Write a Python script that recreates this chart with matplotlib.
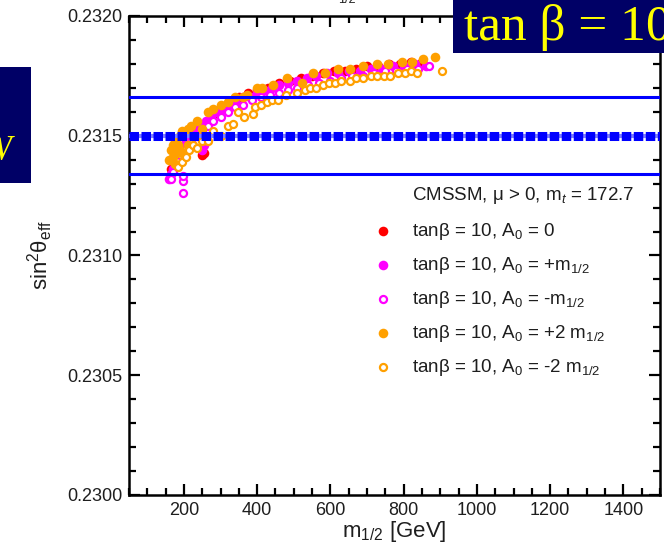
import matplotlib
matplotlib.use("Agg")
import matplotlib.pyplot as plt
from matplotlib.ticker import MultipleLocator, FormatStrFormatter
from matplotlib.patches import Rectangle

plt.rcParams['font.family'] = ['Liberation Sans', 'DejaVu Sans']
plt.rcParams['mathtext.fontset'] = 'custom'
plt.rcParams['mathtext.rm'] = 'Liberation Sans'
plt.rcParams['mathtext.it'] = 'Liberation Sans:italic'
plt.rcParams['mathtext.bf'] = 'Liberation Sans:bold'

# ---- data ----
m_red = [165,175,185,195,205,215,225,240,250,255,260,280,300,325,350,375,400,430,460,490,520,550,580,610,640,670,700,730,760,790,820,850]
s_red = [0.23136,0.23139,0.23142,0.23145,0.23147,0.23149,0.23151,0.23153,0.23142,0.23143,0.23155,0.23159,0.23162,0.23164,0.23166,0.23168,0.23169,0.23170,0.23172,0.23173,0.23174,0.23175,0.23176,0.23177,0.23177,0.23178,0.23179,0.23179,0.23180,0.23180,0.23181,0.23181]

m_mag = [160,165,170,175,180,185,190,200,210,220,230,240,250,255,260,275,290,305,320,340,360,380,400,420,440,460,485,510,535,560,590,620,650,680,710,740,770,800,830,860]
s_mag = [0.23132,0.23134,0.23136,0.23138,0.23140,0.23142,0.23144,0.23146,0.23148,0.23150,0.23152,0.23154,0.23144,0.23146,0.23156,0.23158,0.23160,0.23161,0.23163,0.23164,0.23166,0.23166,0.23168,0.23169,0.23170,0.23171,0.23172,0.23173,0.23174,0.23175,0.23176,0.23176,0.23177,0.23177,0.23178,0.23178,0.23179,0.23179,0.23180,0.23179]

m_mago = [165,170,175,180,190,197,197,197,200,210,220,235,250,265,280,300,320,340,360,385,410,435,460,485,510,540,570,600,630,660,690,720,750,780,810,840,870]
s_mago = [0.23132,0.23135,0.23138,0.23140,0.23142,0.23126,0.23131,0.23133,0.23144,0.23146,0.23148,0.23150,0.23152,0.23154,0.23156,0.23158,0.23160,0.23162,0.23163,0.23165,0.23166,0.23167,0.23168,0.23169,0.23170,0.23171,0.23172,0.23173,0.23174,0.23175,0.23175,0.23176,0.23177,0.23177,0.23178,0.23178,0.23179]

m_org = [160,165,170,170,175,175,180,180,185,190,190,195,200,200,210,210,220,235,250,265,280,300,320,340,360,372,400,413,443,481,522,552,585,621,653,689,727,757,795,823,853,886]
s_org = [0.23140,0.23144,0.23141,0.23146,0.23138,0.23148,0.23143,0.23149,0.23146,0.23144,0.23150,0.23152,0.23142,0.23151,0.23146,0.23153,0.23154,0.23156,0.23153,0.23160,0.23161,0.23163,0.23164,0.23166,0.23166,0.23167,0.23170,0.23170,0.23171,0.23174,0.23172,0.23176,0.23176,0.23178,0.23178,0.23179,0.23180,0.23180,0.23181,0.23181,0.23182,0.23183]

m_orgo = [185,195,205,215,225,236,250,266,280,300,320,335,348,365,389,394,410,427,440,457,480,509,530,544,560,580,596,612,630,653,670,689,710,727,745,763,785,804,820,836,905]
s_orgo = [0.23137,0.23139,0.23141,0.23144,0.23146,0.23145,0.23148,0.23148,0.23152,0.23150,0.23154,0.23155,0.23160,0.23158,0.23159,0.23162,0.23163,0.23164,0.23165,0.23165,0.23167,0.23168,0.23169,0.23170,0.23170,0.23171,0.23172,0.23172,0.23173,0.23173,0.23174,0.23174,0.23175,0.23175,0.23175,0.23175,0.23176,0.23176,0.23177,0.23176,0.23177]

sw_central = 0.23150
sw_band = [0.23134, 0.23166]

labels = [r'tanβ = 10, A$_0$ = 0',
          r'tanβ = 10, A$_0$ = +m$_{1/2}$',
          r'tanβ = 10, A$_0$ = -m$_{1/2}$',
          r'tanβ = 10, A$_0$ = +2 m$_{1/2}$',
          r'tanβ = 10, A$_0$ = -2 m$_{1/2}$']

W, H = 664, 544
fig = plt.figure(figsize=(W/100, H/100), dpi=100)
fig.patch.set_facecolor('white')
ax = fig.add_axes([129/W, 1-495/H, (660-129)/W, (495-16)/H])

txt = '#1e1e1e'
S_F = 48
S_O = 26
h1 = ax.scatter(m_red, s_red, s=S_F, color='#ff0000', lw=0, zorder=2)
h2 = ax.scatter(m_mag, s_mag, s=S_F, color='#ff00ff', lw=0, zorder=2)
h3 = ax.scatter(m_mago, s_mago, s=S_O, facecolors='white', edgecolors='#ff00ff', lw=1.6, zorder=2)
h4 = ax.scatter(m_org, s_org, s=S_F, color='#ffa000', lw=0, zorder=2)
h5 = ax.scatter(m_orgo, s_orgo, s=S_O, facecolors='white', edgecolors='#ffa000', lw=1.6, zorder=2)

for yb in sw_band:
    ax.axhline(yb, color='#0000ff', lw=2.2, zorder=3)
ax.axhline(sw_central, color='#8080ff', lw=3, zorder=3)
ax.axhline(sw_central, color='#0000ff', lw=6.5, linestyle=(0, (1.05, 0.28)),
           dash_capstyle='butt', zorder=3)

ax.set_xlim(50, 1500)
ax.set_ylim(0.2300, 0.2320)
ax.xaxis.set_major_locator(MultipleLocator(200))
ax.xaxis.set_minor_locator(MultipleLocator(50))
ax.yaxis.set_major_locator(MultipleLocator(0.0005))
ax.yaxis.set_minor_locator(MultipleLocator(0.0001))
ax.yaxis.set_major_formatter(FormatStrFormatter('%.4f'))
ax.tick_params(which='both', direction='in', top=True, right=True, width=1.6, colors='black')
ax.tick_params(which='major', length=8)
ax.tick_params(which='minor', length=5)
ax.tick_params(axis='x', which='major', pad=5, labelsize=13, labelcolor=txt)
ax.tick_params(axis='y', which='major', pad=5, labelsize=13, labelcolor=txt)
for sp in ax.spines.values():
    sp.set_linewidth(1.8)

ax.set_xlabel(r'm$_{1/2}$ [GeV]', fontsize=16, color=txt)
ax.xaxis.set_label_coords(0.5, -(519-495)/479)
ax.xaxis.label.set_va('top')
ax.set_ylabel(r'sin$^2$θ$_{\rm eff}$', fontsize=16, color=txt)
ax.yaxis.set_label_coords((55-129)/531, 0.5)

ax.text(412/W, 1-196/H, r'CMSSM, μ > 0, m$_t$ = 172.7', transform=fig.transFigure,
        fontsize=13.5, color=txt, va='center', ha='left')
leg = ax.legend([h1, h2, h3, h4, h5], labels, loc='upper left',
                bbox_to_anchor=(377/W, 1-221/H), bbox_transform=fig.transFigure,
                frameon=False, fontsize=13.5, handlelength=0.6, handletextpad=1.25,
                labelspacing=0.69, borderpad=0, borderaxespad=0)
for t in leg.get_texts():
    t.set_color(txt)

# header boxes
fig.patches.append(Rectangle((453/W, 1-53/H), (W-453)/W, 53/H, transform=fig.transFigure,
                             facecolor='#000066', edgecolor='none', zorder=5))
fig.text(464/W, 1-40/H, 'tan β = 10', fontsize=37, family='Liberation Serif',
         color='#ffff00', ha='left', va='baseline', zorder=6)
fig.patches.append(Rectangle((0, 1-183/H), 31/W, (183-67)/H, transform=fig.transFigure,
                             facecolor='#000066', edgecolor='none', zorder=5))
fig.text(12/W, 1-160/H, 'W', fontsize=26, family='Liberation Serif', style='italic',
         color='#ffff00', ha='right', va='baseline', zorder=6)
fig.text(347/W, 1.0, '1/2', fontsize=9, color=txt, ha='center', va='center')

fig.savefig('out.png', dpi=100)
